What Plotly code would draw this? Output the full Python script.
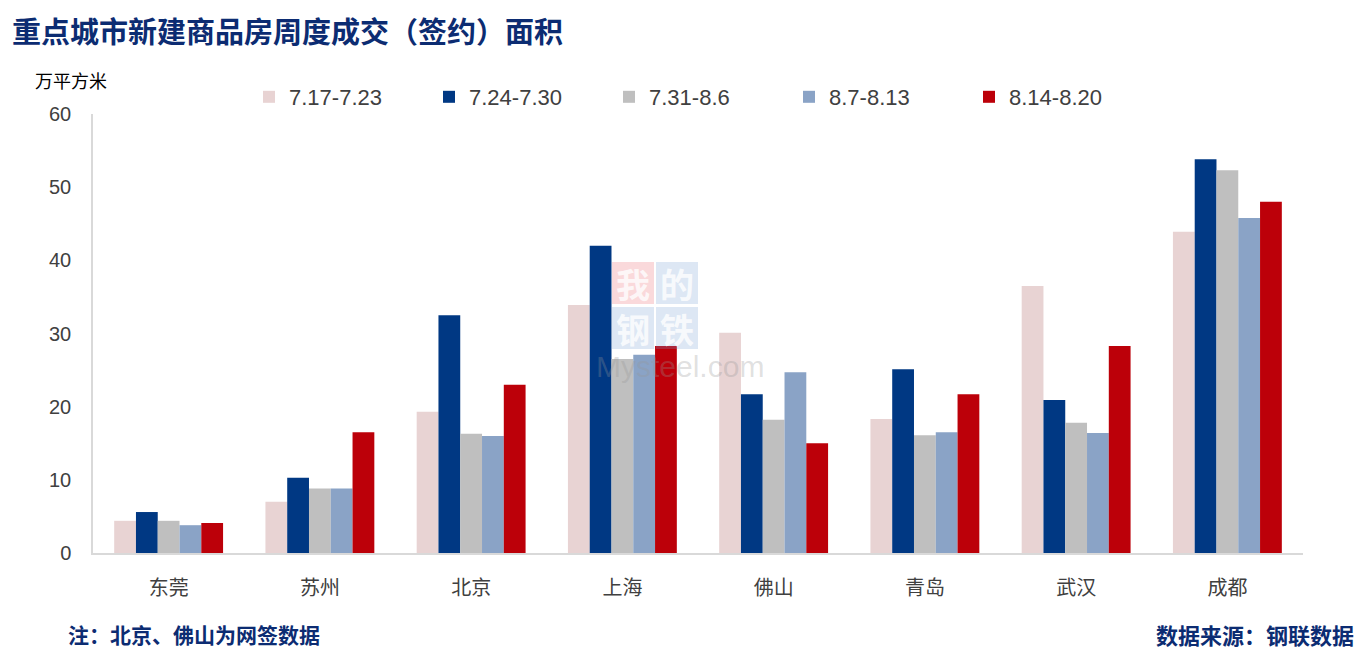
import plotly.graph_objects as go

cities = ["东莞", "苏州", "北京", "上海", "佛山", "青岛", "武汉", "成都"]
weeks = ["7.17-7.23", "7.24-7.30", "7.31-8.6", "8.7-8.13", "8.14-8.20"]
w1 = [4.4, 7.0, 19.3, 33.9, 30.1, 18.3, 36.5, 43.9]
w2 = [5.6, 10.3, 32.5, 42.0, 21.7, 25.1, 20.9, 53.8]
w3 = [4.4, 8.8, 16.3, 26.5, 18.2, 16.1, 17.8, 52.3]
w4 = [3.8, 8.8, 16.0, 27.1, 24.7, 16.5, 16.4, 45.8]
w5 = [4.1, 16.5, 23.0, 28.3, 15.0, 21.7, 28.3, 48.0]
series = [w1, w2, w3, w4, w5]
colors = ["#E8D3D3", "#003883", "#BFBFBF", "#8AA3C6", "#BC0009"]
y_ticks = [0, 10, 20, 30, 40, 50, 60]

fig = go.Figure()
for name, vals, c in zip(weeks, series, colors):
    fig.add_trace(go.Bar(x=cities, y=vals, name=name, marker=dict(color=c, line=dict(width=0))))

plot_l, plot_r, plot_t, plot_b = 93, 1303, 114, 553
pw, ph = plot_r - plot_l, plot_b - plot_t
def px(x):
    return (x - plot_l) / pw
def py(y):
    return (plot_b - y) / ph

fig.update_layout(
    width=1358, height=651,
    margin=dict(l=93, r=55, t=114, b=98),
    paper_bgcolor="white", plot_bgcolor="white",
    barmode="group", bargap=0.28, bargroupgap=0,
    font=dict(family="Noto Sans CJK SC", color="#404040"),
    legend=dict(orientation="h", x=px(249), y=py(97), xanchor="left", yanchor="middle",
                font=dict(size=22, color="#404040", family="Liberation Sans"),
                itemsizing="constant", traceorder="normal", entrywidth=135, entrywidthmode="pixels"),
    xaxis=dict(showline=True, linecolor="#D9D9D9", linewidth=1.5, ticks="", ticklabelstandoff=16,
               tickfont=dict(size=20, color="#404040", family="Noto Sans CJK SC"), showgrid=False),
    yaxis=dict(range=[0, 60], tickvals=y_ticks, showline=True, linecolor="#D9D9D9", linewidth=1.5,
               showgrid=False, zeroline=False, ticks="", ticklabelstandoff=16,
               tickfont=dict(size=20, color="#404040", family="Liberation Sans")),
    showlegend=True,
)

navy = "#0C2C72"
ann_list = [
    dict(text="<b>重点城市新建商品房周度成交（签约）面积</b>", x=px(10), y=py(30), xanchor="left",
         font=dict(size=29, color=navy, family="Noto Sans CJK SC")),
    dict(text="万平方米", x=px(33), y=py(80), xanchor="left",
         font=dict(size=18, color="#000000", family="Noto Sans CJK SC")),
    dict(text="<b>注：北京、佛山为网签数据</b>", x=px(66), y=py(634), xanchor="left",
         font=dict(size=21, color=navy, family="Noto Sans CJK SC")),
    dict(text="<b>数据来源：钢联数据</b>", x=px(1356), y=py(634), xanchor="right",
         font=dict(size=22, color=navy, family="Noto Sans CJK SC")),
    dict(text="Mysteel.com", x=px(680), y=py(366), xanchor="center",
         font=dict(size=30, color="rgba(150,150,150,0.3)", family="Liberation Sans")),
]
wm = [("我", 633, 283, "rgba(230,80,90,0.22)"), ("的", 677, 283, "rgba(120,160,210,0.25)"),
      ("钢", 633, 328, "rgba(120,160,210,0.25)"), ("铁", 677, 328, "rgba(120,160,210,0.25)")]
shapes = []
for ch, cx, cy, col in wm:
    shapes.append(dict(type="rect", xref="paper", yref="paper", x0=px(cx - 21), x1=px(cx + 21),
                       y0=py(cy + 21), y1=py(cy - 21), fillcolor=col, line=dict(width=0), layer="above"))
    ann_list.append(dict(text="<b>" + ch + "</b>", x=px(cx), y=py(cy), xanchor="center",
                         font=dict(size=34, color="rgba(255,255,255,0.8)", family="Noto Sans CJK SC")))
for a in ann_list:
    a.update(xref="paper", yref="paper", yanchor="middle", showarrow=False)
fig.update_layout(annotations=ann_list, shapes=shapes)

fig.write_html("out.html")
